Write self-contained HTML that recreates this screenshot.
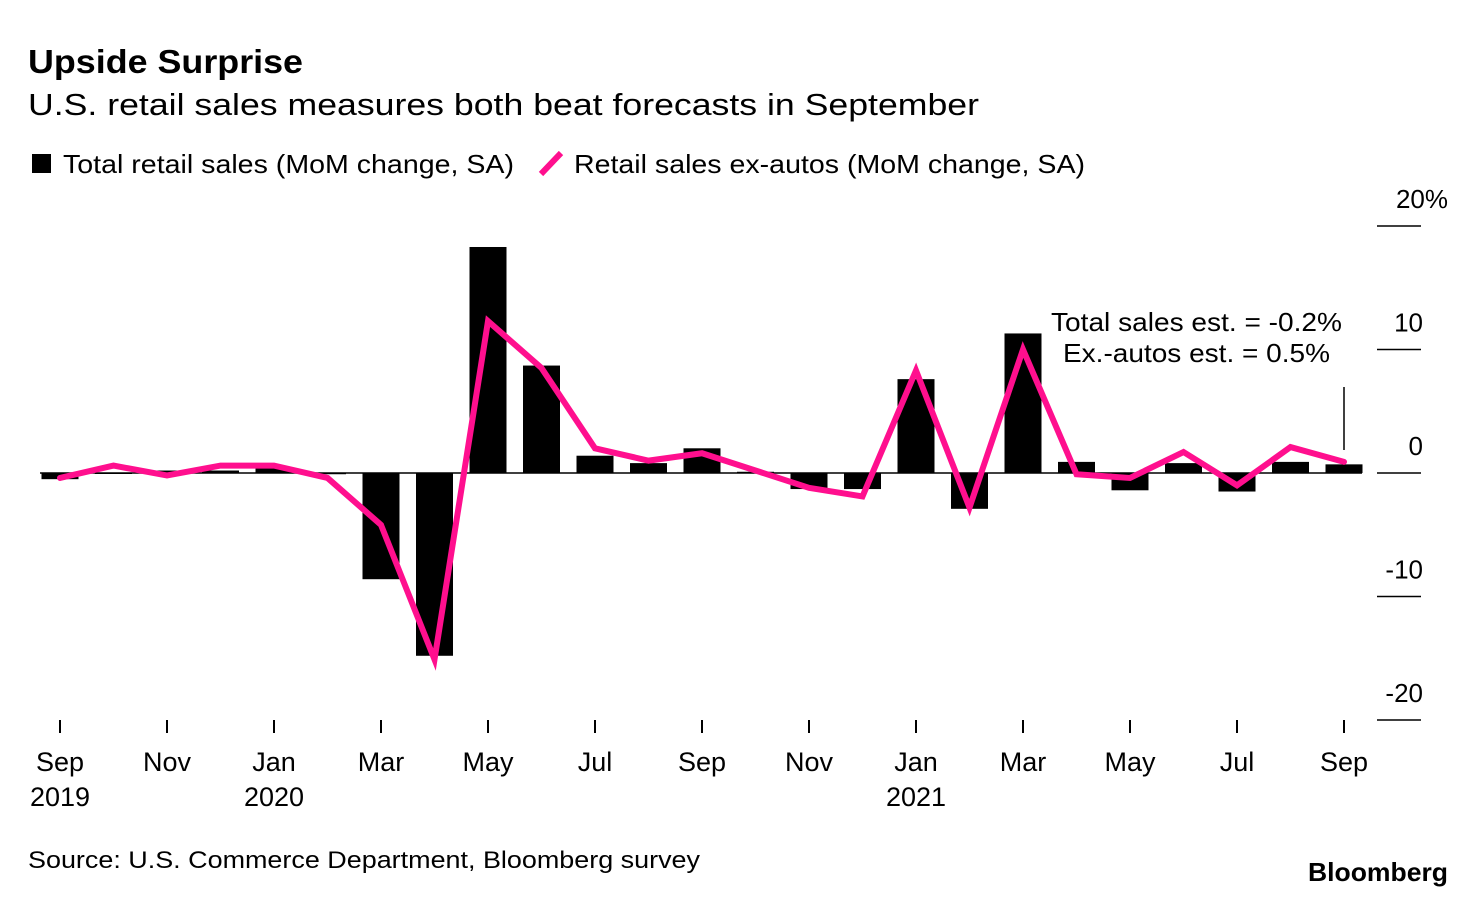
<!DOCTYPE html>
<html><head><meta charset="utf-8"><style>
body{margin:0;background:#fff;width:1476px;height:898px;overflow:hidden;font-family:"Liberation Sans",Arial,sans-serif;}
svg text{font-family:"Liberation Sans",Arial,sans-serif;}
</style></head><body>
<svg id="chart" width="1476" height="898" xmlns="http://www.w3.org/2000/svg">
<text x="28" y="73" font-size="33" font-weight="bold" fill="#000" textLength="275" lengthAdjust="spacingAndGlyphs">Upside Surprise</text>
<text x="28" y="115" font-size="31" fill="#000" textLength="951" lengthAdjust="spacingAndGlyphs">U.S. retail sales measures both beat forecasts in September</text>
<g>
<rect x="32" y="154" width="19" height="19" fill="#000"/>
<text x="63" y="173" font-size="26" textLength="451" lengthAdjust="spacingAndGlyphs">Total retail sales (MoM change, SA)</text>
<line x1="541" y1="174" x2="561" y2="153" stroke="#ff0f8e" stroke-width="6"/>
<text x="574" y="173" font-size="26" textLength="511" lengthAdjust="spacingAndGlyphs">Retail sales ex-autos (MoM change, SA)</text>
</g>
<g id="axes"></g>
<g id="bars"></g>
<g id="line"></g>
<line x1="1344" y1="387" x2="1344" y2="450" stroke="#000" stroke-width="1.5"/>
<text x="1051" y="331" font-size="26" textLength="291" lengthAdjust="spacingAndGlyphs">Total sales est. = -0.2%</text>
<text x="1063" y="362" font-size="26" textLength="267" lengthAdjust="spacingAndGlyphs">Ex.-autos est. = 0.5%</text>
<text x="28" y="868" font-size="24" textLength="672" lengthAdjust="spacingAndGlyphs">Source: U.S. Commerce Department, Bloomberg survey</text>
<text x="1308" y="881" font-size="26" font-weight="bold" textLength="140" lengthAdjust="spacingAndGlyphs">Bloomberg</text>
</svg>
<script>
const months=["Sep19","Oct19","Nov19","Dec19","Jan20","Feb20","Mar20","Apr20","May20","Jun20","Jul20","Aug20","Sep20","Oct20","Nov20","Dec20","Jan21","Feb21","Mar21","Apr21","May21","Jun21","Jul21","Aug21","Sep21"];
const totalSales=[-0.5,0.0,0.2,0.2,0.4,-0.1,-8.6,-14.8,18.3,8.7,1.4,0.8,2.0,0.1,-1.3,-1.3,7.6,-2.9,11.3,0.9,-1.4,0.8,-1.5,0.9,0.7];
const exAutos=[-0.4,0.6,-0.2,0.6,0.6,-0.4,-4.2,-15.1,12.3,8.5,2.0,1.0,1.6,0.2,-1.2,-1.9,8.3,-2.8,10.0,-0.1,-0.4,1.7,-1.0,2.1,0.9];
const yTicks=[20,10,0,-10,-20];
const yTickLabels=["20%","10","0","-10","-20"];
const xTickIdx=[0,2,4,6,8,10,12,14,16,18,20,22,24];
const xTickMonth=["Sep","Nov","Jan","Mar","May","Jul","Sep","Nov","Jan","Mar","May","Jul","Sep"];
const xTickYear=["2019","","2020","","","","","","2021","","","",""];
const NS="http://www.w3.org/2000/svg";
const x=i=>60+i*53.5;
const y=v=>473-v*12.35;
function mk(tag,attrs,parent){const e=document.createElementNS(NS,tag);for(const k in attrs)e.setAttribute(k,attrs[k]);parent.appendChild(e);return e;}
const axes=document.getElementById('axes'),bars=document.getElementById('bars'),lineG=document.getElementById('line');
yTicks.forEach((t,i)=>{
  const l=mk('line',{x1:1377,x2:1421,y1:y(t),y2:y(t),stroke:'#000','stroke-width':1.5},axes);
  
  
  const tx=mk('text',{x:1423,y:y(t)-18,'font-size':26,'text-anchor':'end'},axes);
  if(i===0){tx.setAttribute('x',1448);}
  tx.textContent=yTickLabels[i];
  
  
});
xTickIdx.forEach((m,i)=>{
  const l=mk('line',{x1:x(m),x2:x(m),y1:720,y2:733,stroke:'#000','stroke-width':2},axes);
  
  
  const t=mk('text',{x:x(m),y:771,'font-size':27,'text-anchor':'middle'},axes);
  t.textContent=xTickMonth[i];
  
  
  if(xTickYear[i]){
    const t2=mk('text',{x:x(m),y:806,'font-size':27,'text-anchor':'middle'},axes);
    t2.textContent=xTickYear[i];
    
    
  }
});
totalSales.forEach((v,i)=>{
  const r=mk('rect',{x:x(i)-18.5,width:37,y:Math.min(y(v),y(0)),height:Math.max(Math.abs(y(v)-y(0)),1),fill:'#000'},bars);
  
  
});
const base=mk('line',{x1:40,x2:1362,y1:y(0),y2:y(0),stroke:'#000','stroke-width':1.5},bars);


const p=mk('polyline',{points:exAutos.map((v,i)=>x(i)+','+y(v)).join(' '),fill:'none',stroke:'#ff0f8e','stroke-width':6,'stroke-linejoin':'miter','stroke-linecap':'round'},lineG);


</script>
</body></html>
